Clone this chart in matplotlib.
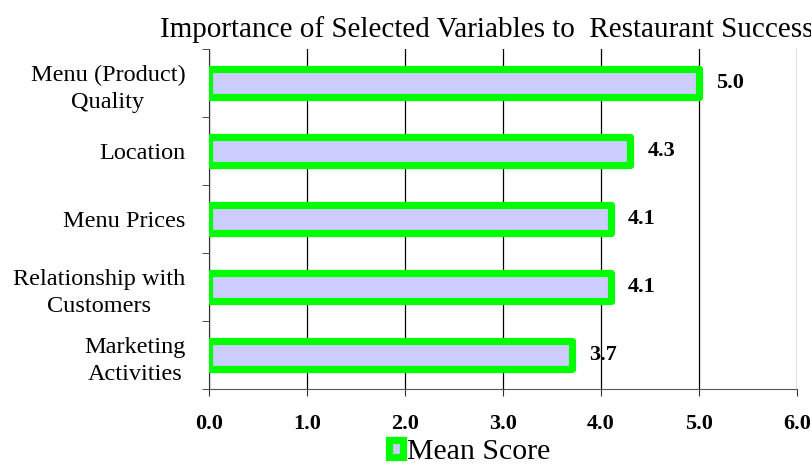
import numpy as np
import matplotlib.pyplot as plt
from matplotlib.ticker import FixedLocator

categories = ["Menu (Product)\nQuality", "Location", "Menu Prices",
              "Relationship with\nCustomers", "Marketing\nActivities"]
mean_score = [5.0, 4.3, 4.1, 4.1, 3.7]
x_ticks = [0, 1, 2, 3, 4, 5, 6]

plt.rcParams['font.family'] = ['Liberation Serif', 'DejaVu Serif']

fig = plt.figure(figsize=(8.12, 4.66), dpi=100)
ax = fig.add_axes([0.2574, 0.1652, 0.7241, 0.7296])

y = np.arange(len(categories))
bars = ax.barh(y, mean_score, height=0.40, color='#CCCCFF', edgecolor='#00FF00',
               linewidth=5.2, label='Mean Score', zorder=3)
for p in bars:
    p.set_joinstyle('round')
for yi, v in zip(y, mean_score):
    ax.text(v + 0.175, yi, f"{v:.1f}", va='center', ha='left', fontsize=16,
            fontweight='bold', zorder=4)

ax.set_xlim(0, 6)
ax.set_ylim(len(categories) - 0.5, -0.5)
ax.set_xticks(x_ticks)
ax.set_xticklabels([f"{t:.1f}" for t in x_ticks], fontsize=16, fontweight='bold')
ax.set_yticks(y)
ax.set_yticklabels(categories, fontsize=17.5, multialignment='center', linespacing=1.4)
ax.yaxis.set_minor_locator(FixedLocator(np.arange(-0.5, len(categories), 1.0)))
ax.tick_params(axis='y', which='major', length=0, pad=17)
ax.tick_params(axis='y', which='minor', length=5, direction='out', color='#333333')
ax.tick_params(axis='x', length=5, direction='out', pad=13, color='#333333')
ax.xaxis.grid(True, color='black', linewidth=0.9, zorder=0)
ax.set_axisbelow(True)
for s in ['top', 'right']:
    ax.spines[s].set_visible(False)
ax.spines['left'].set_color('#333333')
ax.spines['bottom'].set_color('#555555')

# title runs past the right edge, as in the original
fig.text(0.60, 0.937, "Importance of Selected Variables to  Restaurant Success",
         ha='center', va='center', fontsize=21)

fig.legend(handles=[bars], loc='center', bbox_to_anchor=(0.578, 0.03), frameon=False,
           fontsize=21.5, handlelength=0.48, handleheight=0.48, handletextpad=0.12,
           borderpad=0, borderaxespad=0)

fig.savefig('out.png', dpi=100)
